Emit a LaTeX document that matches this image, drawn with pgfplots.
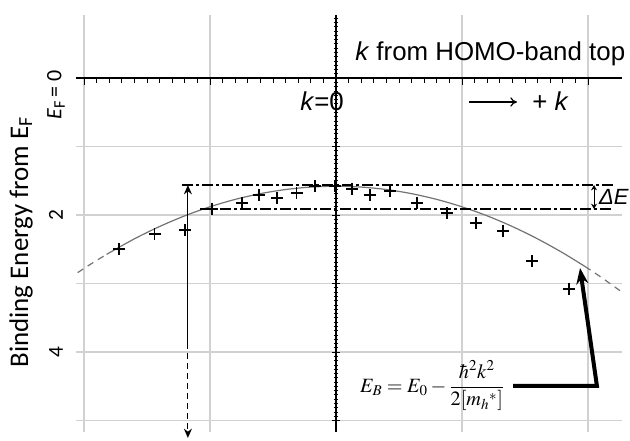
\documentclass[border=0pt]{standalone}
\usepackage{amsmath}
\usepackage{mathptmx}
\usepackage[no-math]{fontspec}
\setmainfont{Carlito}
\newfontfamily\arial{Liberation Sans}
\usepackage{pgfplots}
\pgfplotsset{compat=1.18}
\usetikzlibrary{arrows.meta}

% measured points (k, binding energy)
\pgfplotstableread{
k      E
-1.722 2.496
-1.437 2.277
-1.198 2.219
-0.984 1.912
-0.746 1.825
-0.611 1.708
-0.468 1.752
-0.310 1.679
-0.167 1.577
-0.008 1.577
 0.127 1.620
 0.270 1.708
 0.429 1.650
 0.643 1.825
 0.881 1.971
 1.111 2.117
 1.325 2.234
 1.556 2.672
 1.849 3.080
}\measured

\pgfplotsset{frame/.style={
  at={(57pt,-324pt)}, anchor=south west, scale only axis,
  width=409.5pt, height=312.75pt,
  xmin=-2.063, xmax=2.270, ymin=-0.920, ymax=5.168, y dir=reverse}}

\begin{document}
\begin{tikzpicture}
\path[use as bounding box] (0,0) rectangle (472.5pt,-330pt);

% grid
\begin{axis}[frame,
  axis line style={draw=none},
  xtick={-2,-1,1,2}, xticklabels={},
  ytick={1,2,3,4,5}, yticklabels={},
  major tick length=0pt,
  grid=major, major grid style={draw=black!18, line width=0.9pt}]
  \addplot[draw=none] coordinates {(0,0)};
\end{axis}

% crossing axes, data and annotations
\begin{axis}[frame, clip=false,
  axis lines=middle, axis line style={-, black, line width=0.9pt},
  xtick={-2,-1,0,1,2}, minor x tick num=9, xticklabels={},
  ytick={-1,0,1,2,3,4,5}, minor y tick num=15, yticklabels={},
  every tick/.style={black, line width=0.5pt},
  major tick length=5.5pt, minor tick length=3.5pt,
  every major x tick/.style={yshift=-2.75pt},
  every minor x tick/.style={yshift=-1.75pt}]

  % parabolic fit
  \addplot[draw=black!55, line width=0.9pt, smooth] coordinates {
    (-1.82,2.574) (-1.6,2.348) (-1.4,2.168) (-1.2,2.012) (-1.0,1.880)
    (-0.8,1.772) (-0.6,1.688) (-0.4,1.628) (-0.2,1.592) (0,1.580)
    (0.2,1.592) (0.4,1.628) (0.6,1.688) (0.8,1.772) (1.0,1.880)
    (1.2,2.012) (1.4,2.168) (1.6,2.348) (1.8,2.552) (1.976,2.751)};
  \addplot[draw=black!55, line width=0.9pt, smooth, dash pattern=on 5pt off 4pt]
    coordinates {(-2.05,2.841) (-1.95,2.721) (-1.82,2.574)};
  \addplot[draw=black!55, line width=0.9pt, smooth, dash pattern=on 5pt off 4pt]
    coordinates {(1.976,2.751) (2.1,2.903) (2.27,3.126)};

  \addplot[only marks, mark=+, mark size=4.5pt,
    mark options={black, line width=0.9pt}] table[x=k, y=E] {\measured};

  % band-width guide lines
  \draw[line width=0.9pt, dash pattern=on 8pt off 2.5pt on 2pt off 2.5pt]
    (axis cs:-1.222,1.562) -- (axis cs:2.198,1.562);
  \draw[line width=0.9pt, dash pattern=on 8pt off 2.5pt on 2pt off 2.5pt]
    (axis cs:-1.079,1.912) -- (axis cs:2.198,1.912);
  \draw[line width=0.8pt, {Stealth[length=4pt,width=4.5pt]}-{Stealth[length=4pt,width=4.5pt]}]
    (axis cs:2.048,1.562) -- (axis cs:2.048,1.912);
  \node[anchor=west, inner sep=0pt, font=\arial\itshape\fontsize{16.5}{19}\selectfont]
    at (axis cs:2.087,1.737) {ΔE};

  % vertical arrow
  \draw[line width=0.9pt, -{Stealth[length=7pt,width=6pt]}]
    (axis cs:-1.175,3.869) -- (axis cs:-1.175,1.562);
  \draw[line width=0.9pt, dash pattern=on 4.5pt off 3pt, -{Stealth[length=7pt,width=6pt]}]
    (axis cs:-1.175,3.869) -- (axis cs:-1.175,5.255);

  % formula and pointer
  \draw[line width=3pt, line join=miter, -{Stealth[length=12pt,width=9pt]}]
    (axis cs:1.405,4.496) -- (axis cs:2.071,4.496) -- (axis cs:1.937,2.774);
  \node[anchor=west, inner sep=0pt] at (axis cs:0.190,4.490)
    {\fontsize{15.2}{18}\selectfont $E_B = E_0 - \dfrac{\hbar^2k^2}{2[m_h{}^*]}$};
\end{axis}

% texts around the axes
\node[anchor=base west, inner sep=0pt, font=\arial\fontsize{19.4}{22}\selectfont]
  at (355*0.75pt,-60*0.75pt) {\textit{k} from HOMO-band top};
\node[anchor=base west, inner sep=0pt, font=\arial\fontsize{19.4}{22}\selectfont]
  at (300*0.75pt,-110*0.75pt) {\textit{k}=0};
\draw[line width=0.9pt, -{To[length=5pt,width=7pt]}]
  (469*0.75pt,-102*0.75pt) -- (517*0.75pt,-102*0.75pt);
\node[anchor=base west, inner sep=0pt, font=\arial\fontsize{19.4}{22}\selectfont]
  at (532*0.75pt,-110*0.75pt) {+ \textit{k}};
\node[rotate=90, inner sep=0pt, font=\fontsize{16.5}{19}\selectfont]
  at (56*0.75pt,-95*0.75pt) {\textit{E}\textsubscript{F}\,= 0};
\node[rotate=90, inner sep=0pt, font=\fontsize{20.2}{23}\selectfont]
  at (21*0.75pt,-242*0.75pt) {Binding Energy from E\textsubscript{F}};
% y tick labels
\node[rotate=90, inner sep=0pt, font=\fontsize{16}{18}\selectfont]
  at (56*0.75pt,-215*0.75pt) {2};
\node[rotate=90, inner sep=0pt, font=\fontsize{16}{18}\selectfont]
  at (56*0.75pt,-352*0.75pt) {4};
\end{tikzpicture}
\end{document}
